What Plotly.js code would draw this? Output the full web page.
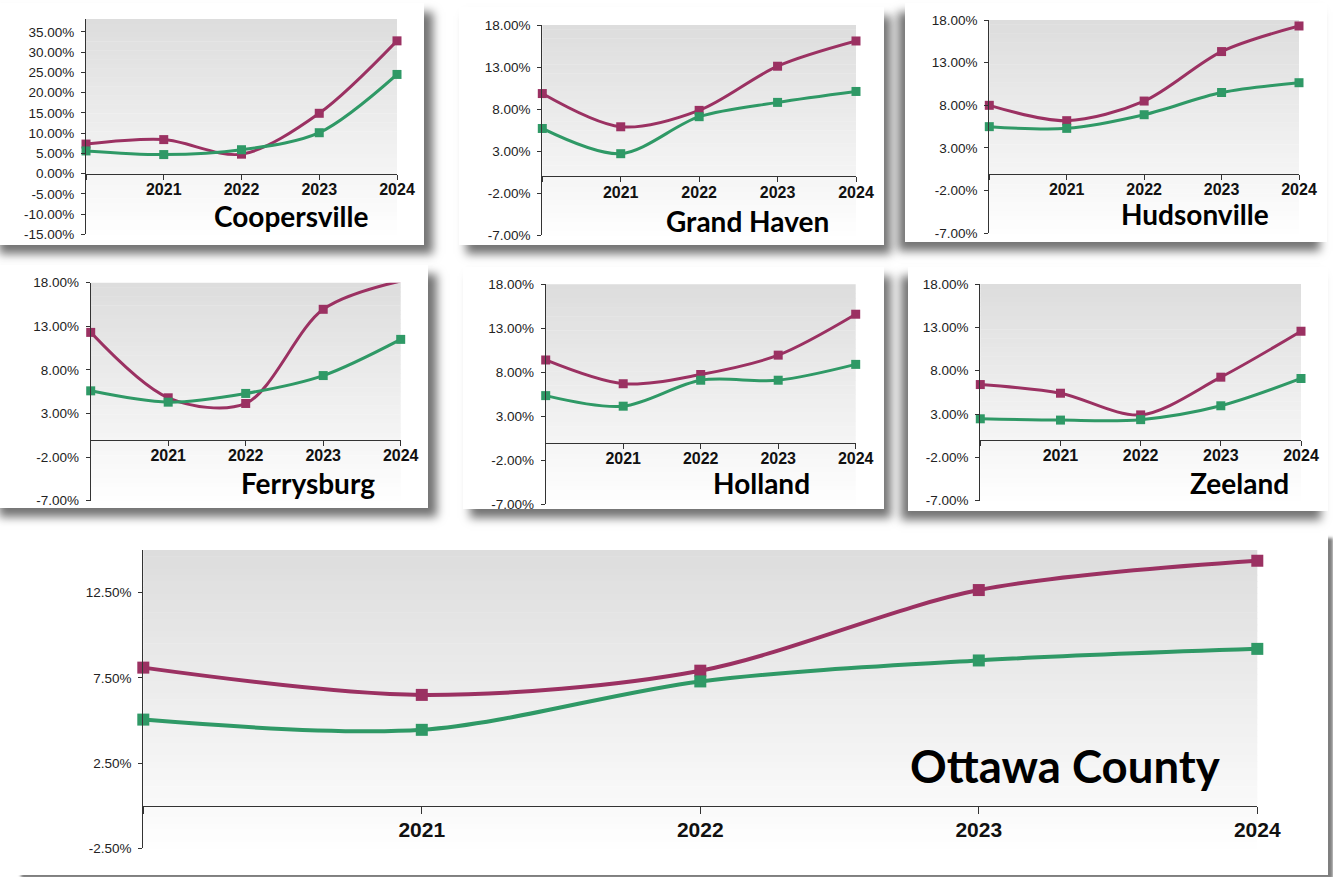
<!DOCTYPE html>
<html>
<head>
<meta charset="utf-8">
<script src="https://cdn.plot.ly/plotly-3.0.1.min.js"></script>
<style>
  html, body { margin: 0; padding: 0; background: #ffffff; overflow: hidden; }
  #stage { position: relative; width: 1333px; height: 877px; }
  .card { position: absolute; background: #ffffff; }
  #chart { position: absolute; left: 0; top: 0; width: 1333px; height: 877px; }
</style>
</head>
<body>
<div id="stage">
  <div class="card" style="left:-10px; top:3px; width:434px; height:242px; box-shadow: 9px 9px 9px rgba(0,0,0,0.55);"></div>
  <div class="card" style="left:459px; top:7px; width:425px; height:238px; box-shadow: 7px 9px 9px rgba(0,0,0,0.55);"></div>
  <div class="card" style="left:905px; top:3px; width:422px; height:239px; box-shadow: -7px 9px 9px rgba(0,0,0,0.55);"></div>
  <div class="card" style="left:-10px; top:265px; width:438px; height:243px; box-shadow: 9px 9px 9px rgba(0,0,0,0.55);"></div>
  <div class="card" style="left:463px; top:267px; width:421px; height:242px; box-shadow: 7px 9px 9px rgba(0,0,0,0.55);"></div>
  <div class="card" style="left:908px; top:267px; width:420px; height:244px; box-shadow: -7px 9px 9px rgba(0,0,0,0.55);"></div>
  <div class="card" style="left:16px; top:534px; width:1312px; height:341px; box-shadow: 5px 4px 3px rgba(0,0,0,0.5);"></div>
  <div id="chart"></div>
</div>
<script>
// Years on the horizontal axis; the first year sits on the vertical axis unlabeled
const years = [2020, 2021, 2022, 2023, 2024];
const yearLabels = ['', '2021', '2022', '2023', '2024'];

// Annual change (%) per community: series 1 (purple) and series 2 (green)
const coopersville1 = [7.3, 8.4, 4.8, 14.9, 32.8];
const coopersville2 = [5.6, 4.7, 5.9, 10.1, 24.5];

const grandHaven1 = [9.85, 5.9, 7.85, 13.1, 16.1];
const grandHaven2 = [5.7, 2.7, 7.1, 8.8, 10.1];

const hudsonville1 = [8.0, 6.2, 8.5, 14.3, 17.3];
const hudsonville2 = [5.5, 5.3, 6.9, 9.5, 10.65];

const ferrysburg1 = [12.3, 4.8, 4.15, 14.95, 18.2];
const ferrysburg2 = [5.6, 4.3, 5.3, 7.35, 11.5];

const holland1 = [9.4, 6.7, 7.75, 9.95, 14.6];
const holland2 = [5.35, 4.15, 7.1, 7.1, 8.9];

const zeeland1 = [6.4, 5.4, 2.9, 7.25, 12.55];
const zeeland2 = [2.45, 2.3, 2.35, 3.95, 7.1];

const ottawa1 = [8.1, 6.5, 7.92, 12.65, 14.37];
const ottawa2 = [5.05, 4.45, 7.29, 8.52, 9.2];

const panelNames = ['Coopersville', 'Grand Haven', 'Hudsonville', 'Ferrysburg', 'Holland', 'Zeeland', 'Ottawa County'];

// Vertical axis ticks
const coopersvilleTickVals = [-15, -10, -5, 0, 5, 10, 15, 20, 25, 30, 35];
const coopersvilleTickText = ['-15.00%', '-10.00%', '-5.00%', '0.00%', '5.00%', '10.00%', '15.00%', '20.00%', '25.00%', '30.00%', '35.00%'];
const smallTickVals = [-7, -2, 3, 8, 13, 18];
const smallTickText = ['-7.00%', '-2.00%', '3.00%', '8.00%', '13.00%', '18.00%'];
const ottawaTickVals = [-2.5, 2.5, 7.5, 12.5];
const ottawaTickText = ['-2.50%', '2.50%', '7.50%', '12.50%'];

const W = 1333, H = 877;
const fx = px => px / W;
const fy = px => 1 - px / H;

const purple = '#9b3162';
const green = '#2f9966';
const axisColor = '#333333';
const tickFontFamily = '"Liberation Sans", Arial, sans-serif';
const titleFontFamily = 'Lato, "Open Sans", sans-serif';

// Plot-area placement (pixels): left, right, top, bottom; title centre and size
const panels = [
  { s1: coopersville1, s2: coopersville2, box: [86, 397, 19, 234.3], range: [-15, 38.2], tv: coopersvilleTickVals, tt: coopersvilleTickText, title: [291.7, 216, 28], big: false },
  { s1: grandHaven1, s2: grandHaven2, box: [542.3, 856, 25, 235.3], range: [-7, 18], tv: smallTickVals, tt: smallTickText, title: [747, 220.5, 28], big: false },
  { s1: hudsonville1, s2: hudsonville2, box: [989.3, 1299, 20, 233.3], range: [-7, 18], tv: smallTickVals, tt: smallTickText, title: [1194.7, 213.5, 28], big: false },
  { s1: ferrysburg1, s2: ferrysburg2, box: [90.7, 400.7, 282.7, 500.7], range: [-7, 18], tv: smallTickVals, tt: smallTickText, title: [307.5, 483, 28], big: false },
  { s1: holland1, s2: holland2, box: [545.7, 855.7, 284.3, 504.3], range: [-7, 18], tv: smallTickVals, tt: smallTickText, title: [761.3, 483, 28], big: false },
  { s1: zeeland1, s2: zeeland2, box: [980.3, 1301, 284, 500.7], range: [-7, 18], tv: smallTickVals, tt: smallTickText, title: [1239, 482.5, 28], big: false },
  { s1: ottawa1, s2: ottawa2, box: [143.3, 1257.3, 550, 848.3], range: [-2.5, 15], tv: ottawaTickVals, tt: ottawaTickText, title: [1065.3, 765, 45.5], big: true }
];

const traces = [];
const shapes = [];
const annotations = [];
const layout = {
  width: W, height: H,
  margin: { l: 0, r: 0, t: 0, b: 0 },
  paper_bgcolor: 'rgba(0,0,0,0)',
  plot_bgcolor: 'rgba(0,0,0,0)',
  showlegend: false,
  hovermode: false
};

// Grey-to-white vertical wash behind each plot area
const STRIPS = 48;
const topGrey = 221, bottomGrey = 254;

panels.forEach((p, i) => {
  const n = i === 0 ? '' : String(i + 1);
  const xa = 'x' + n, ya = 'y' + n;
  const [xL, xR, yT, yB] = p.box;
  const [r0, r1] = p.range;
  const zeroPx = yB - (0 - r0) / (r1 - r0) * (yB - yT);

  const lineW = p.big ? 4 : 3;
  const mSize = p.big ? 12 : 9;
  // a point above the top of the range keeps its line but shows no marker
  const sizesFor = vals => vals.map(v => (v > r1 ? 0 : mSize));

  [[p.s1, purple, 'Series 1'], [p.s2, green, 'Series 2']].forEach(([vals, col, nm]) => {
    traces.push({
      type: 'scatter', mode: 'lines+markers', name: nm,
      x: years, y: vals, xaxis: xa, yaxis: ya,
      line: { color: col, width: lineW, shape: 'spline', smoothing: 0.9 },
      marker: { symbol: 'square', size: sizesFor(vals), color: col, opacity: 1, line: { width: 0 } },
      cliponaxis: false
    });
  });

  layout['xaxis' + n] = {
    domain: [fx(xL), fx(xR)],
    range: [years[0], years[years.length - 1]],
    anchor: 'free', position: fy(zeroPx),
    tickvals: years, ticktext: yearLabels,
    ticks: 'outside', ticklen: p.big ? 7 : 5, tickwidth: 1, tickcolor: axisColor,
    ticklabelstandoff: p.big ? -2 : -4,
    showline: true, linecolor: axisColor, linewidth: 1,
    showgrid: false, zeroline: false, fixedrange: true,
    tickfont: { family: tickFontFamily, size: p.big ? 21 : 16, weight: 700, color: '#111111' }
  };
  layout['yaxis' + n] = {
    domain: [fy(yB), fy(yT)],
    range: [r0, r1],
    anchor: xa,
    tickvals: p.tv, ticktext: p.tt,
    ticks: 'outside', ticklen: 4, tickwidth: 1, tickcolor: axisColor,
    showline: true, linecolor: axisColor, linewidth: 1,
    showgrid: false, zeroline: false, fixedrange: true,
    ticklabelstandoff: 4,
    tickfont: { family: tickFontFamily, size: 13.5, color: '#222222' }
  };

  for (let k = 0; k < STRIPS; k++) {
    const t = k / (STRIPS - 1);
    const g = Math.round(topGrey + (bottomGrey - topGrey) * t);
    shapes.push({
      type: 'rect', layer: 'below',
      xref: xa + ' domain', yref: ya + ' domain',
      x0: 0, x1: 1,
      y0: 1 - (k + 1) / STRIPS - 0.002, y1: 1 - k / STRIPS,
      fillcolor: `rgb(${g},${g},${g})`, line: { width: 0 }
    });
  }

  annotations.push({
    xref: 'paper', yref: 'paper',
    x: fx(p.title[0]), y: fy(p.title[1]),
    xanchor: 'center', yanchor: 'middle',
    text: panelNames[i], showarrow: false,
    font: { family: titleFontFamily, size: p.title[2], weight: 700, color: '#000000' }
  });
});

layout.shapes = shapes;
layout.annotations = annotations;

Plotly.newPlot('chart', traces, layout, { displayModeBar: false, staticPlot: true });
</script>
</body>
</html>
